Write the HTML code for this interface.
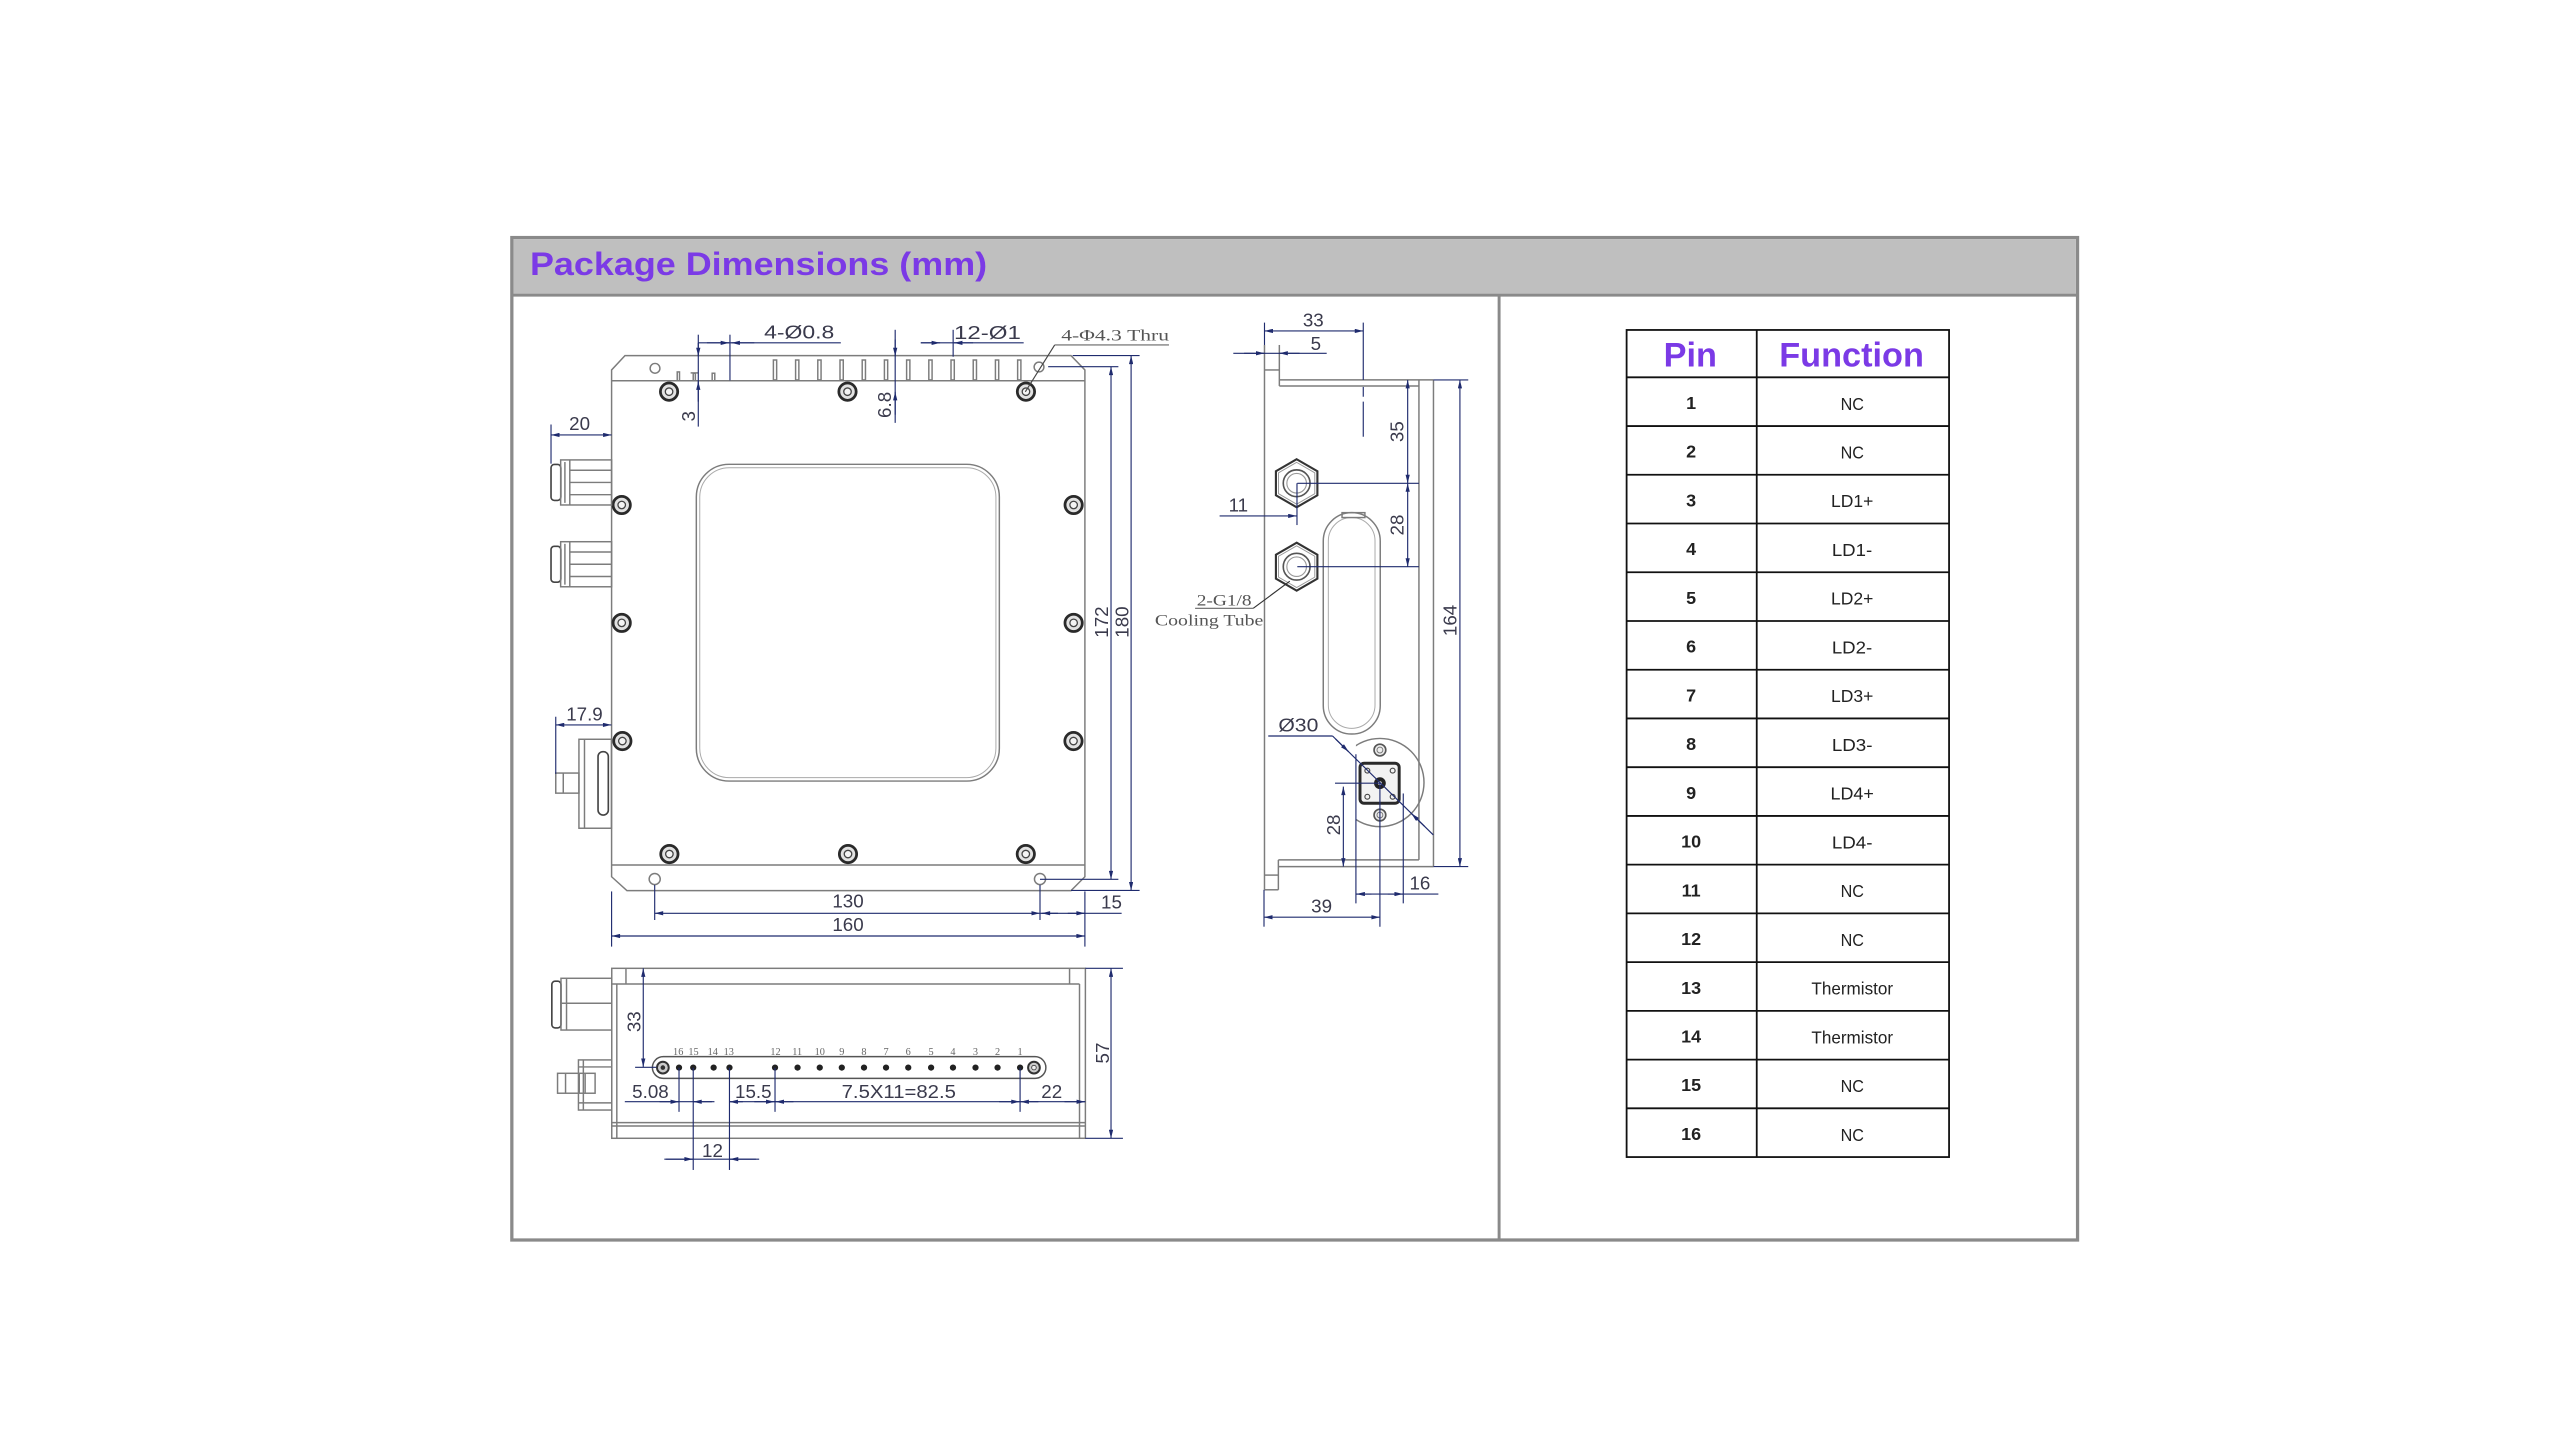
<!DOCTYPE html>
<html><head><meta charset="utf-8"><style>
html,body{margin:0;padding:0;background:#fff;}
svg{display:block;}
.g{fill:none;stroke:#7c7c7c;stroke-width:0.9;}
.gd{fill:none;stroke:#444;stroke-width:1;}
.d{stroke:#1f2b6e;stroke-width:0.7;fill:none;}
.dd{stroke:#1f2b6e;stroke-width:0.7;fill:none;marker-start:url(#a);marker-end:url(#a);}
.de{stroke:#1f2b6e;stroke-width:0.7;fill:none;marker-end:url(#a);}
.t{font-family:"Liberation Sans",Arial,sans-serif;font-size:11.5px;fill:#3a3a4c;}
.s{font-family:"Liberation Serif","Times New Roman",serif;font-size:9.5px;fill:#555;}
.pl{font-family:"Liberation Serif",serif;font-size:6.3px;fill:#666;text-anchor:middle;}
.pn{font-family:"Liberation Sans",Arial,sans-serif;font-size:11px;font-weight:bold;fill:#222;text-anchor:middle;}
.fn{font-family:"Liberation Sans",Arial,sans-serif;font-size:11px;fill:#222;}
.hd{font-family:"Liberation Sans",Arial,sans-serif;font-size:21px;font-weight:bold;fill:#7b3ae6;text-anchor:middle;}
</style></head><body>
<svg width="2560" height="1440" viewBox="0 0 1568 882" xmlns="http://www.w3.org/2000/svg">
<defs>
<marker id="a" viewBox="0 0 6 3" refX="6" refY="1.5" markerWidth="6" markerHeight="2.6" markerUnits="userSpaceOnUse" orient="auto-start-reverse"><path d="M0,0L6,1.5L0,3z" fill="#1f2b6e"/></marker>
<g id="sc"><circle r="5.3" fill="#e2e2e2" stroke="#2a2a2a" stroke-width="1.7"/><circle r="2.3" fill="#f4f4f4" stroke="#444" stroke-width="0.8"/></g>
<g id="hx"><polygon points="0,-14.7 12.7,-7.35 12.7,7.35 0,14.7 -12.7,7.35 -12.7,-7.35" fill="#fff" stroke="#333" stroke-width="1.3"/><polygon points="0,-12.8 11.1,-6.4 11.1,6.4 0,12.8 -11.1,6.4 -11.1,-6.4" fill="none" stroke="#999" stroke-width="0.6"/><circle r="8.2" fill="none" stroke="#555" stroke-width="1"/><circle r="6" fill="none" stroke="#999" stroke-width="0.7"/></g>
<g id="fit"><rect x="337.5" y="284.5" width="6" height="22" rx="2" class="gd"/><rect x="343.4" y="281.7" width="31.2" height="27.6" class="g"/><line x1="349" y1="281.7" x2="349" y2="309.3" class="g"/><line x1="346" y1="283" x2="346" y2="308" class="g"/><line x1="349" y1="288" x2="374.6" y2="288" class="g"/><line x1="349" y1="295.5" x2="374.6" y2="295.5" class="g"/><line x1="349" y1="303" x2="374.6" y2="303" class="g"/></g>
<clipPath id="cc"><rect x="830.5" y="440" width="70" height="80"/></clipPath>
</defs>
<rect width="1568" height="882" fill="#fff"/>

<!-- Frame -->
<rect x="313.5" y="145.5" width="959" height="614" fill="#fff" stroke="#8a8a8a" stroke-width="2"/>
<rect x="314.5" y="146.5" width="957" height="34" fill="#bfbfbf"/>
<line x1="314" y1="180.8" x2="1272" y2="180.8" stroke="#8a8a8a" stroke-width="1.8"/>
<line x1="918.2" y1="181" x2="918.2" y2="759" stroke="#8a8a8a" stroke-width="1.8"/>
<text x="324.6" y="168.4" font-family="Liberation Sans, Arial, sans-serif" font-size="19.6" font-weight="bold" fill="#7b3ae6" textLength="280" lengthAdjust="spacingAndGlyphs">Package Dimensions (mm)</text>

<!-- Table -->
<g stroke="#111" stroke-width="1.1" fill="none">
<rect x="996.3" y="202.1" width="197.5" height="506.6"/>
<line x1="1076" y1="202.1" x2="1076" y2="708.7"/>
<line x1="996.3" y1="231.1" x2="1193.8" y2="231.1"/>
<line x1="996.3" y1="260.95" x2="1193.8" y2="260.95"/>
<line x1="996.3" y1="290.8" x2="1193.8" y2="290.8"/>
<line x1="996.3" y1="320.65" x2="1193.8" y2="320.65"/>
<line x1="996.3" y1="350.5" x2="1193.8" y2="350.5"/>
<line x1="996.3" y1="380.35" x2="1193.8" y2="380.35"/>
<line x1="996.3" y1="410.2" x2="1193.8" y2="410.2"/>
<line x1="996.3" y1="440.05" x2="1193.8" y2="440.05"/>
<line x1="996.3" y1="469.9" x2="1193.8" y2="469.9"/>
<line x1="996.3" y1="499.75" x2="1193.8" y2="499.75"/>
<line x1="996.3" y1="529.6" x2="1193.8" y2="529.6"/>
<line x1="996.3" y1="559.45" x2="1193.8" y2="559.45"/>
<line x1="996.3" y1="589.3" x2="1193.8" y2="589.3"/>
<line x1="996.3" y1="619.15" x2="1193.8" y2="619.15"/>
<line x1="996.3" y1="649" x2="1193.8" y2="649"/>
<line x1="996.3" y1="678.85" x2="1193.8" y2="678.85"/>
</g>
<text class="hd" x="1035.3" y="224.6">Pin</text>
<text class="hd" x="1134.1" y="224.6">Function</text>
<g class="pn">
<text x="1035.8" y="250.5">1</text><text x="1035.8" y="280.35">2</text><text x="1035.8" y="310.2">3</text><text x="1035.8" y="340.05">4</text>
<text x="1035.8" y="369.9">5</text><text x="1035.8" y="399.75">6</text><text x="1035.8" y="429.6">7</text><text x="1035.8" y="459.45">8</text>
<text x="1035.8" y="489.3">9</text><text x="1035.8" y="519.15">10</text><text x="1035.8" y="549">11</text><text x="1035.8" y="578.85">12</text>
<text x="1035.8" y="608.7">13</text><text x="1035.8" y="638.55">14</text><text x="1035.8" y="668.4">15</text><text x="1035.8" y="698.25">16</text>
</g>
<g class="fn">
<text x="1127.4" y="251" textLength="14.3" lengthAdjust="spacingAndGlyphs">NC</text>
<text x="1127.4" y="280.85" textLength="14.3" lengthAdjust="spacingAndGlyphs">NC</text>
<text x="1121.5" y="310.7" textLength="25.9" lengthAdjust="spacingAndGlyphs">LD1+</text>
<text x="1122" y="340.55" textLength="24.7" lengthAdjust="spacingAndGlyphs">LD1-</text>
<text x="1121.5" y="370.4" textLength="25.9" lengthAdjust="spacingAndGlyphs">LD2+</text>
<text x="1122" y="400.25" textLength="24.7" lengthAdjust="spacingAndGlyphs">LD2-</text>
<text x="1121.5" y="430.1" textLength="25.9" lengthAdjust="spacingAndGlyphs">LD3+</text>
<text x="1122" y="459.95" textLength="24.9" lengthAdjust="spacingAndGlyphs">LD3-</text>
<text x="1121.2" y="489.8" textLength="26.5" lengthAdjust="spacingAndGlyphs">LD4+</text>
<text x="1122" y="519.65" textLength="24.9" lengthAdjust="spacingAndGlyphs">LD4-</text>
<text x="1127.4" y="549.5" textLength="14.3" lengthAdjust="spacingAndGlyphs">NC</text>
<text x="1127.4" y="579.35" textLength="14.3" lengthAdjust="spacingAndGlyphs">NC</text>
<text x="1109.5" y="609.2" textLength="50" lengthAdjust="spacingAndGlyphs">Thermistor</text>
<text x="1109.5" y="639.05" textLength="50" lengthAdjust="spacingAndGlyphs">Thermistor</text>
<text x="1127.4" y="668.9" textLength="14.3" lengthAdjust="spacingAndGlyphs">NC</text>
<text x="1127.4" y="698.75" textLength="14.3" lengthAdjust="spacingAndGlyphs">NC</text>
</g>

<!-- ============ TOP VIEW ============ -->
<g class="g">
<path d="M382.8,217.8 H656 L664.5,226.6 V537 L656,545.5 H384 L374.6,537 V226.6 Z"/>
<line x1="374.6" y1="233.2" x2="664.5" y2="233.2"/>
<line x1="374.6" y1="529.8" x2="664.5" y2="529.8"/>
<circle cx="401.2" cy="225.6" r="3"/>
<circle cx="636.4" cy="224.8" r="3"/>
<circle cx="401" cy="538.4" r="3.4"/>
<circle cx="637" cy="538.4" r="3.4"/>
<rect x="426.5" y="284.4" width="185.6" height="194" rx="20"/>
<rect x="428.6" y="286.5" width="181.4" height="189.8" rx="18" stroke="#aaa" stroke-width="0.6"/>
<rect x="473.7" y="220.5" width="2" height="12.2"/><rect x="487.3" y="220.5" width="2" height="12.2"/>
<rect x="500.9" y="220.5" width="2" height="12.2"/><rect x="514.5" y="220.5" width="2" height="12.2"/>
<rect x="528.1" y="220.5" width="2" height="12.2"/><rect x="541.7" y="220.5" width="2" height="12.2"/>
<rect x="555.3" y="220.5" width="2" height="12.2"/><rect x="568.9" y="220.5" width="2" height="12.2"/>
<rect x="582.5" y="220.5" width="2" height="12.2"/><rect x="596.1" y="220.5" width="2" height="12.2"/>
<rect x="609.7" y="220.5" width="2" height="12.2"/><rect x="623.3" y="220.5" width="2" height="12.2"/>
<rect x="414.8" y="227.8" width="1.4" height="5.4"/>
<rect x="424.6" y="228.6" width="1.3" height="4.6"/><line x1="423" y1="228.4" x2="427.5" y2="228.4"/>
<rect x="436.2" y="228.6" width="1.6" height="4.6"/>
</g>
<use href="#sc" x="409.8" y="239.9"/><use href="#sc" x="519.1" y="239.9"/><use href="#sc" x="628.4" y="239.9"/>
<use href="#sc" x="380.8" y="309.3"/><use href="#sc" x="657.6" y="309.3"/>
<use href="#sc" x="380.8" y="381.5"/><use href="#sc" x="657.6" y="381.5"/>
<use href="#sc" x="381.2" y="453.9"/><use href="#sc" x="657.5" y="453.9"/>
<use href="#sc" x="410" y="523.1"/><use href="#sc" x="519.4" y="523.1"/><use href="#sc" x="628.3" y="523.1"/>
<!-- fittings -->
<use href="#fit"/>
<use href="#fit" y="50.1"/>
<g class="g">
<rect x="354.6" y="452.8" width="19.9" height="54.5"/>
<line x1="358" y1="452.8" x2="358" y2="507.3"/>
<rect x="366.3" y="460.4" width="6.3" height="38.8" rx="3" class="gd"/>
<rect x="340.4" y="473.5" width="14.2" height="12.3"/>
<line x1="345" y1="473.5" x2="345" y2="485.8"/>
</g>
<!-- top view dims -->
<line class="d" x1="657" y1="217.8" x2="698" y2="217.8"/>
<line class="d" x1="642" y1="224.6" x2="685" y2="224.6"/>
<line class="d" x1="637" y1="538.6" x2="685" y2="538.6"/>
<line class="d" x1="656" y1="545.4" x2="698" y2="545.4"/>
<line class="dd" x1="680.5" y1="224.6" x2="680.5" y2="538.6"/>
<line class="dd" x1="692.8" y1="217.8" x2="692.8" y2="545.4"/>
<text class="t" text-anchor="middle" transform="translate(678.8,381) rotate(-90)">172</text>
<text class="t" text-anchor="middle" transform="translate(691.2,381) rotate(-90)">180</text>
<line class="d" x1="401" y1="542" x2="401" y2="563.5"/>
<line class="d" x1="637" y1="542" x2="637" y2="563.5"/>
<line class="d" x1="374.6" y1="546" x2="374.6" y2="579.8"/>
<line class="d" x1="664.5" y1="546" x2="664.5" y2="579.8"/>
<line class="dd" x1="401" y1="559.4" x2="637" y2="559.4"/>
<line class="d" x1="637" y1="559.4" x2="687" y2="559.4"/>
<line class="de" x1="648" y1="559.4" x2="638" y2="559.4"/>
<line class="de" x1="654" y1="559.4" x2="664.5" y2="559.4"/>
<line class="dd" x1="374.6" y1="573.3" x2="664.5" y2="573.3"/>
<text class="t" text-anchor="middle" x="519.4" y="555.8">130</text>
<text class="t" text-anchor="middle" x="519.4" y="570.4">160</text>
<text class="t" text-anchor="middle" x="680.8" y="556.5">15</text>
<line class="d" x1="337.5" y1="260" x2="337.5" y2="284"/>
<line class="dd" x1="337.5" y1="266.4" x2="374.6" y2="266.4"/>
<text class="t" text-anchor="middle" x="355" y="263.4">20</text>
<line class="d" x1="340.4" y1="439" x2="340.4" y2="474"/>
<line class="dd" x1="340.4" y1="444" x2="374.5" y2="444"/>
<text class="t" text-anchor="middle" x="358" y="441.2">17.9</text>
<!-- top dims -->
<text class="t" x="468" y="207.2" textLength="43" lengthAdjust="spacingAndGlyphs">4-Ø0.8</text>
<line class="d" x1="427.7" y1="210" x2="515" y2="210"/>
<line class="d" x1="447.1" y1="205" x2="447.1" y2="233"/>
<line class="de" x1="433" y1="210" x2="446.6" y2="210"/>
<line class="de" x1="462" y1="210" x2="448" y2="210"/>
<line class="d" x1="427.7" y1="205" x2="427.7" y2="261.3"/>
<line class="de" x1="427.7" y1="210" x2="427.7" y2="218.2"/>
<line class="de" x1="427.7" y1="246" x2="427.7" y2="233.6"/>
<text class="t" text-anchor="middle" transform="translate(425.6,255) rotate(-90)">3</text>
<line class="d" x1="548.3" y1="202" x2="548.3" y2="259"/>
<line class="de" x1="548.3" y1="208" x2="548.3" y2="218.2"/>
<line class="de" x1="548.3" y1="254" x2="548.3" y2="240"/>
<text class="t" text-anchor="middle" transform="translate(545.6,248) rotate(-90)">6.8</text>
<text class="t" x="584.3" y="207.5" textLength="41" lengthAdjust="spacingAndGlyphs">12-Ø1</text>
<line class="d" x1="564" y1="210" x2="627" y2="210"/>
<line class="d" x1="583.8" y1="202" x2="583.8" y2="218.5"/>
<line class="de" x1="564" y1="210" x2="575.8" y2="210"/>
<line class="de" x1="596" y1="210" x2="584.3" y2="210"/>
<text class="s" x="650" y="208.5" textLength="66" lengthAdjust="spacingAndGlyphs">4-Φ4.3 Thru</text>
<line x1="646" y1="211.3" x2="716" y2="211.3" stroke="#666" stroke-width="0.7"/>
<line x1="646" y1="211.3" x2="628" y2="240" stroke="#444" stroke-width="0.7"/>

<!-- ============ SIDE VIEW ============ -->
<g class="g">
<line x1="774.5" y1="211.3" x2="774.5" y2="545"/>
<line x1="783.6" y1="211.3" x2="783.6" y2="236.4"/>
<line x1="774.5" y1="226.6" x2="783.6" y2="226.6"/>
<line x1="783.6" y1="232.7" x2="878" y2="232.7"/>
<line x1="783.6" y1="236.4" x2="869.1" y2="236.4"/>
<line x1="869.1" y1="232.7" x2="869.1" y2="526.7"/>
<line x1="878" y1="232.7" x2="878" y2="530.8"/>
<line x1="783" y1="526.7" x2="869.1" y2="526.7"/>
<line x1="783" y1="530.8" x2="878" y2="530.8"/>
<line x1="783" y1="526.7" x2="783" y2="545"/>
<line x1="774.5" y1="545" x2="783" y2="545"/>
<line x1="774.5" y1="536" x2="783" y2="536"/>
<rect x="810.5" y="314" width="34.9" height="135.6" rx="17.4"/>
<rect x="813.6" y="317" width="28.6" height="129.1" rx="14.3" stroke="#aaa" stroke-width="0.6"/>
<rect x="822" y="314" width="14" height="3"/>
<circle cx="845.2" cy="479.3" r="27" clip-path="url(#cc)"/>
</g>
<use href="#hx" x="794.2" y="296"/>
<use href="#hx" x="794.2" y="347.1"/>
<!-- connector -->
<rect x="833" y="467.5" width="24" height="24.5" rx="2.5" fill="#f2f2f2" stroke="#2a2a2a" stroke-width="1.8"/>
<circle cx="837.5" cy="472" r="1.5" fill="none" stroke="#444" stroke-width="0.7"/>
<circle cx="853" cy="472" r="1.5" fill="none" stroke="#444" stroke-width="0.7"/>
<circle cx="837.5" cy="488" r="1.5" fill="none" stroke="#444" stroke-width="0.7"/>
<circle cx="853" cy="488" r="1.5" fill="none" stroke="#444" stroke-width="0.7"/>
<circle cx="845.2" cy="479.7" r="3.6" fill="#222"/>
<circle cx="845.2" cy="479.7" r="1.2" fill="#ddd"/>
<circle cx="845.2" cy="459.4" r="3.6" fill="#eee" stroke="#555" stroke-width="1"/>
<circle cx="845.2" cy="459.4" r="1.8" fill="none" stroke="#777" stroke-width="0.6"/>
<circle cx="845.2" cy="499.2" r="3.6" fill="#eee" stroke="#555" stroke-width="1"/>
<circle cx="845.2" cy="499.2" r="1.8" fill="none" stroke="#777" stroke-width="0.6"/>
<!-- side dims -->
<line class="d" x1="774.5" y1="197.6" x2="774.5" y2="211.3"/>
<line class="d" x1="835" y1="197.6" x2="835" y2="232.7"/>
<line class="d" x1="835" y1="237" x2="835" y2="243" />
<line class="d" x1="835" y1="246" x2="835" y2="267.5"/>
<line class="dd" x1="774.5" y1="202.7" x2="835" y2="202.7"/>
<text class="t" text-anchor="middle" x="804.4" y="200">33</text>
<line class="d" x1="755.4" y1="216.4" x2="812.6" y2="216.4"/>
<line class="de" x1="762" y1="216.4" x2="774.5" y2="216.4"/>
<line class="de" x1="796" y1="216.4" x2="783.6" y2="216.4"/>
<text class="t" text-anchor="middle" x="806" y="214.4">5</text>
<line class="d" x1="794.6" y1="296" x2="869.1" y2="296"/>
<line class="d" x1="794.6" y1="347.1" x2="869.1" y2="347.1"/>
<line class="dd" x1="862.2" y1="232.7" x2="862.2" y2="296"/>
<line class="dd" x1="862.2" y1="296" x2="862.2" y2="347.1"/>
<text class="t" text-anchor="middle" transform="translate(859.6,264.4) rotate(-90)">35</text>
<text class="t" text-anchor="middle" transform="translate(859.6,321.6) rotate(-90)">28</text>
<line class="d" x1="878" y1="232.7" x2="899.3" y2="232.7"/>
<line class="d" x1="878" y1="530.8" x2="899.3" y2="530.8"/>
<line class="dd" x1="894.2" y1="232.7" x2="894.2" y2="530.8"/>
<text class="t" text-anchor="middle" transform="translate(892,380) rotate(-90)">164</text>
<line class="d" x1="794.4" y1="296" x2="794.4" y2="321.6"/>
<line class="de" x1="747" y1="316" x2="794.2" y2="316"/>
<text class="t" text-anchor="middle" x="758.5" y="313.4">11</text>
<text class="s" x="733" y="371" textLength="33.6" lengthAdjust="spacingAndGlyphs">2-G1/8</text>
<text class="s" x="707.4" y="383.2" textLength="66.4" lengthAdjust="spacingAndGlyphs">Cooling Tube</text>
<line x1="732" y1="372.6" x2="767.6" y2="372.6" stroke="#666" stroke-width="0.7"/>
<line x1="767.6" y1="372.6" x2="790" y2="356" stroke="#333" stroke-width="0.7"/>
<text class="t" x="783" y="448.1" textLength="24.5" lengthAdjust="spacingAndGlyphs">Ø30</text>
<line class="d" x1="776.8" y1="450.8" x2="816.2" y2="450.8"/>
<line class="d" x1="816.2" y1="450.8" x2="877.9" y2="511.4"/>
<line class="de" x1="818" y1="452.6" x2="826" y2="460.4"/>
<line class="de" x1="872.5" y1="506.1" x2="864.5" y2="498.3"/>
<line class="d" x1="830.5" y1="462" x2="830.5" y2="553.3"/>
<line class="d" x1="845.2" y1="479.7" x2="845.2" y2="567.6"/>
<line class="d" x1="859.5" y1="486" x2="859.5" y2="553.3"/>
<line class="d" x1="817.7" y1="479.7" x2="845.2" y2="479.7"/>
<line class="dd" x1="822.8" y1="481.8" x2="822.8" y2="530.8"/>
<text class="t" text-anchor="middle" transform="translate(820.6,505.3) rotate(-90)">28</text>
<line class="d" x1="830.5" y1="547.6" x2="881" y2="547.6"/>
<line class="de" x1="840" y1="547.6" x2="830.8" y2="547.6"/>
<line class="de" x1="850" y1="547.6" x2="859.3" y2="547.6"/>
<text class="t" text-anchor="middle" x="869.7" y="544.7">16</text>
<line class="d" x1="774.2" y1="545" x2="774.2" y2="567.6"/>
<line class="dd" x1="774.2" y1="561.8" x2="845.2" y2="561.8"/>
<text class="t" text-anchor="middle" x="809.5" y="559">39</text>

<!-- ============ BOTTOM (FRONT) VIEW ============ -->
<g class="g">
<rect x="374.7" y="593.1" width="290.1" height="104.1"/>
<line x1="374.7" y1="602.7" x2="661.2" y2="602.7"/>
<line x1="383.4" y1="593.1" x2="383.4" y2="602.7"/>
<line x1="655.1" y1="593.1" x2="655.1" y2="602.7"/>
<line x1="377.8" y1="602.7" x2="377.8" y2="697.2"/>
<line x1="661.2" y1="602.7" x2="661.2" y2="697.2"/>
<line x1="374.7" y1="687.6" x2="664.8" y2="687.6"/>
<line x1="374.7" y1="689.7" x2="664.8" y2="689.7"/>
<rect x="399.6" y="647.2" width="241" height="13.3" rx="6.65" stroke="#555"/>
<rect x="338" y="601" width="5.6" height="28.6" rx="2" class="gd"/>
<rect x="343.6" y="599.2" width="31.1" height="31.7"/>
<line x1="343.6" y1="614.5" x2="374.7" y2="614.5"/>
<line x1="347" y1="599.2" x2="347" y2="630.9"/>
<rect x="354.3" y="649.2" width="20.4" height="30.7"/>
<line x1="357.3" y1="649.2" x2="357.3" y2="679.9"/>
<line x1="354.3" y1="653.5" x2="374.7" y2="653.5"/>
<line x1="354.3" y1="675.5" x2="374.7" y2="675.5"/>
<rect x="341.5" y="657.4" width="23" height="12.2"/>
<line x1="346.4" y1="657.4" x2="346.4" y2="669.6"/>
<line x1="354.8" y1="657.4" x2="354.8" y2="669.6"/>
<line x1="358.4" y1="657.4" x2="358.4" y2="669.6"/>
</g>
<circle cx="406" cy="653.9" r="3.6" fill="#ccc" stroke="#333" stroke-width="1.2"/>
<circle cx="406" cy="653.9" r="1.4" fill="#333"/>
<circle cx="633.3" cy="653.9" r="3.6" fill="#ccc" stroke="#333" stroke-width="1.2"/>
<circle cx="633.3" cy="653.9" r="1.4" fill="#eee" stroke="#333" stroke-width="0.5"/>
<g fill="#222">
<circle cx="415.9" cy="653.9" r="1.9"/><circle cx="424.6" cy="653.9" r="1.9"/><circle cx="437.1" cy="653.9" r="1.9"/><circle cx="446.8" cy="653.9" r="1.9"/>
<circle cx="474.7" cy="653.9" r="1.9"/><circle cx="488.5" cy="653.9" r="1.9"/><circle cx="502.1" cy="653.9" r="1.9"/><circle cx="515.6" cy="653.9" r="1.9"/>
<circle cx="529.2" cy="653.9" r="1.9"/><circle cx="542.7" cy="653.9" r="1.9"/><circle cx="556.3" cy="653.9" r="1.9"/><circle cx="570.3" cy="653.9" r="1.9"/>
<circle cx="583.7" cy="653.9" r="1.9"/><circle cx="597.5" cy="653.9" r="1.9"/><circle cx="611" cy="653.9" r="1.9"/><circle cx="624.8" cy="653.9" r="1.9"/>
</g>
<g class="pl">
<text x="415.4" y="646.3">16</text><text x="424.8" y="646.3">15</text><text x="436.6" y="646.3">14</text><text x="446.4" y="646.3">13</text>
<text x="475" y="646.3">12</text><text x="488.3" y="646.3">11</text><text x="502.1" y="646.3">10</text><text x="515.6" y="646.3">9</text>
<text x="529.2" y="646.3">8</text><text x="542.7" y="646.3">7</text><text x="556.3" y="646.3">6</text><text x="570.3" y="646.3">5</text>
<text x="583.7" y="646.3">4</text><text x="597.5" y="646.3">3</text><text x="611" y="646.3">2</text><text x="624.8" y="646.3">1</text>
</g>
<!-- bottom view dims -->
<line class="d" x1="664.8" y1="593.1" x2="687.8" y2="593.1"/>
<line class="d" x1="664.8" y1="697.2" x2="687.8" y2="697.2"/>
<line class="dd" x1="680.5" y1="593.1" x2="680.5" y2="697.2"/>
<text class="t" text-anchor="middle" transform="translate(679.2,645) rotate(-90)">57</text>
<line class="dd" x1="394" y1="593.1" x2="394" y2="653.5"/>
<line class="d" x1="389" y1="653.7" x2="402" y2="653.7"/>
<text class="t" text-anchor="middle" transform="translate(392.2,625.8) rotate(-90)">33</text>
<line class="d" x1="415.9" y1="654" x2="415.9" y2="681"/>
<line class="d" x1="424.6" y1="654" x2="424.6" y2="716.6"/>
<line class="d" x1="446.8" y1="654" x2="446.8" y2="716.6"/>
<line class="d" x1="474.7" y1="654" x2="474.7" y2="681"/>
<line class="d" x1="624.8" y1="654" x2="624.8" y2="681"/>
<line class="d" x1="382.7" y1="674.8" x2="437.6" y2="674.8"/>
<line class="d" x1="446.8" y1="674.8" x2="664.8" y2="674.8"/>
<line class="de" x1="404" y1="674.8" x2="415.9" y2="674.8"/>
<line class="de" x1="436" y1="674.8" x2="424.6" y2="674.8"/>
<line class="de" x1="455" y1="674.8" x2="446.8" y2="674.8"/>
<line class="de" x1="462" y1="674.8" x2="474.4" y2="674.8"/>
<line class="de" x1="486" y1="674.8" x2="475" y2="674.8"/>
<line class="de" x1="612" y1="674.8" x2="624.6" y2="674.8"/>
<line class="de" x1="636" y1="674.8" x2="625" y2="674.8"/>
<line class="de" x1="652" y1="674.8" x2="664.6" y2="674.8"/>
<text class="t" text-anchor="middle" x="398.4" y="672.5">5.08</text>
<text class="t" text-anchor="middle" x="461.4" y="672.5">15.5</text>
<text class="t" text-anchor="middle" x="550.5" y="672.5" font-size="12" textLength="70" lengthAdjust="spacingAndGlyphs">7.5X11=82.5</text>
<text class="t" text-anchor="middle" x="644.2" y="672.5">22</text>
<line class="d" x1="406.9" y1="710" x2="465" y2="710"/>
<line class="de" x1="408" y1="710" x2="424.4" y2="710"/>
<line class="de" x1="463" y1="710" x2="447" y2="710"/>
<text class="t" text-anchor="middle" x="436.4" y="708.8">12</text>
</svg>
</body></html>
